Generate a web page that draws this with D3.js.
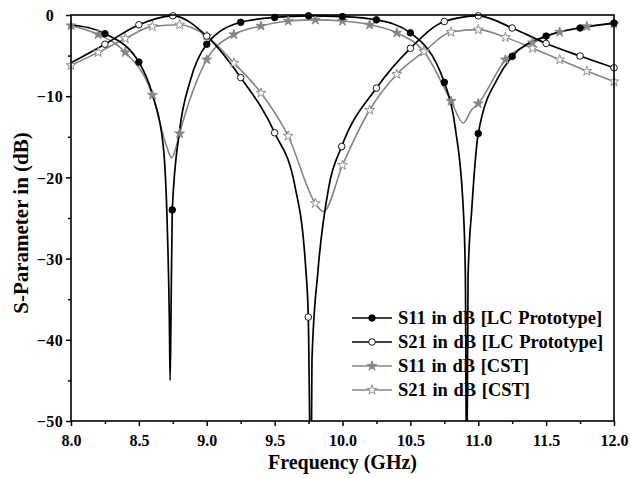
<!DOCTYPE html>
<html>
<head>
<meta charset="utf-8">
<script src="https://cdn.jsdelivr.net/npm/d3@7"></script>
<style>
  body { margin: 0; background: #fff; }
  text { font-family: "Liberation Serif", "Times New Roman", serif; font-weight: bold; fill: #000; }
</style>
</head>
<body>
<div id="chart"></div>
<script>
(function () {
	"use strict";

	// [frequency GHz, dB]
	var s11LcLine = [
		[8.0, -1.2], [8.25, -2.3], [8.5, -5.8], [8.6, -9.8], [8.68, -16.2], [8.71, -26.5],
		[8.725, -38], [8.73, -45], [8.736, -38], [8.746, -24.0], [8.8, -14.2], [8.88, -8.0],
		[9.0, -3.6], [9.25, -0.9], [9.5, -0.3], [9.75, -0.1], [10.0, -0.2], [10.25, -0.6],
		[10.5, -2.2], [10.75, -8.3], [10.83, -13.8], [10.89, -24], [10.905, -32], [10.915, -60],
		[10.925, -32], [10.952, -24], [11.0, -14.6], [11.15, -7.6], [11.25, -5.1], [11.5, -2.6],
		[11.75, -1.6], [12.0, -1.0]
	];
	var s11LcMarks = [
		[8.25, -2.3], [8.5, -5.8], [8.746, -24.0], [9.0, -3.6], [9.25, -0.9], [9.5, -0.3],
		[9.75, -0.1], [10.0, -0.2], [10.25, -0.6], [10.5, -2.2], [10.75, -8.3], [11.0, -14.6],
		[11.25, -5.1], [11.5, -2.6], [11.75, -1.6], [12.0, -1.0]
	];

	var s21LcLine = [
		[8.0, -5.9], [8.25, -3.6], [8.5, -1.2], [8.75, -0.1], [9.0, -2.6], [9.25, -7.7],
		[9.5, -14.5], [9.65, -21.1], [9.73, -31.4], [9.748, -37.2], [9.768, -60], [9.775, -42.5],
		[9.82, -31.4], [9.9, -21.1], [9.994, -16.2], [10.25, -9.0], [10.5, -4.1], [10.75, -0.8],
		[11.0, -0.1], [11.25, -1.6], [11.5, -3.5], [11.75, -5.05], [12.0, -6.5]
	];
	var s21LcMarks = [
		[8.25, -3.6], [8.5, -1.2], [8.75, -0.1], [9.0, -2.6], [9.25, -7.7], [9.5, -14.5],
		[9.748, -37.2], [9.994, -16.2], [10.25, -9.0], [10.5, -4.1], [10.75, -0.8], [11.0, -0.1],
		[11.25, -1.6], [11.5, -3.5], [11.75, -5.05], [12.0, -6.5]
	];

	var s11CstLine = [
		[8.0, -1.3], [8.2, -2.4], [8.4, -4.6], [8.6, -9.85], [8.705, -16.2], [8.742, -17.6],
		[8.775, -16.2], [8.8, -14.6], [9.0, -5.5], [9.2, -2.4], [9.4, -1.35], [9.6, -0.74],
		[9.8, -0.6], [10.0, -0.74], [10.2, -1.2], [10.4, -2.2], [10.6, -4.5], [10.8, -10.6],
		[10.89, -13.3], [10.95, -11.7], [11.0, -10.9], [11.2, -5.5], [11.4, -3.4], [11.6, -2.1],
		[11.8, -1.4], [12.0, -1.1]
	];
	var s11CstMarks = [
		[8.0, -1.3], [8.2, -2.4], [8.4, -4.6], [8.6, -9.85], [8.8, -14.6], [9.0, -5.5],
		[9.2, -2.4], [9.4, -1.35], [9.6, -0.74], [9.8, -0.6], [10.0, -0.74], [10.2, -1.2],
		[10.4, -2.2], [10.6, -4.5], [10.8, -10.6], [11.0, -10.9], [11.2, -5.5], [11.4, -3.4],
		[11.6, -2.1], [11.8, -1.4], [12.0, -1.1]
	];

	var s21CstLine = [
		[8.0, -6.2], [8.2, -4.6], [8.4, -2.9], [8.6, -1.4], [8.8, -1.2], [9.0, -2.6],
		[9.2, -5.9], [9.4, -9.6], [9.6, -14.9], [9.8, -23.2], [9.86, -24.2], [10.0, -18.5],
		[10.2, -11.7], [10.4, -7.3], [10.6, -4.5], [10.8, -2.1], [11.0, -1.8], [11.2, -2.75],
		[11.4, -4.1], [11.6, -5.5], [11.8, -6.9], [12.0, -8.2]
	];
	var s21CstMarks = [
		[8.0, -6.2], [8.2, -4.6], [8.4, -2.9], [8.6, -1.4], [8.8, -1.2], [9.0, -2.6],
		[9.2, -5.9], [9.4, -9.6], [9.6, -14.9], [9.8, -23.2], [10.0, -18.5], [10.2, -11.7],
		[10.4, -7.3], [10.6, -4.5], [10.8, -2.1], [11.0, -1.8], [11.2, -2.75], [11.4, -4.1],
		[11.6, -5.5], [11.8, -6.9], [12.0, -8.2]
	];

	var xTicks = [8.0, 8.5, 9.0, 9.5, 10.0, 10.5, 11.0, 11.5, 12.0];
	var yTicks = [0, -10, -20, -30, -40, -50];
	var legendLabels = [
		"S11 in dB [LC Prototype]",
		"S21 in dB [LC Prototype]",
		"S11 in dB [CST]",
		"S21 in dB [CST]"
	];

	var width = 631, height = 478,
		margin = {top: 15, right: 17, bottom: 57, left: 71},
		w = width - margin.left - margin.right,
		h = height - margin.top - margin.bottom,
		gray = "#858585";

	var svg = d3.select("#chart").append("svg")
		.attr("width", width)
		.attr("height", height);

	var g = svg.append("g").attr("transform", "translate(" + margin.left + "," + margin.top + ")");

	var x = d3.scaleLinear().domain([8, 12]).range([0, w]),
		y = d3.scaleLinear().domain([-50, 0]).range([h, 0]);

	svg.append("defs").append("clipPath").attr("id", "clip")
		.append("rect").attr("width", w).attr("height", h);

	// axes: major + minor ticks outside, labels
	var xAxis = d3.axisBottom(x).tickValues(xTicks).tickSize(5).tickFormat(d3.format(".1f"));
	var xMinor = d3.axisBottom(x).tickValues(d3.range(8.25, 12, 0.5)).tickSize(3).tickFormat("");
	var yAxis = d3.axisLeft(y).tickValues(yTicks).tickSize(5).tickFormat(d3.format("d"));
	var yMinor = d3.axisLeft(y).tickValues([-5, -15, -25, -35, -45]).tickSize(3).tickFormat("");

	function styleAxis(sel) {
		sel.select(".domain").remove();
		sel.selectAll("line").attr("stroke", "#000").attr("stroke-width", 1.5);
		sel.selectAll("text").style("font-size", "16px").attr("fill", "#000");
	}

	g.append("g").attr("transform", "translate(0," + h + ")").call(xAxis).call(styleAxis)
		.selectAll("text").attr("dy", "1.05em");
	g.append("g").attr("transform", "translate(0," + h + ")").call(xMinor).call(styleAxis);
	g.append("g").call(yAxis).call(styleAxis)
		.selectAll("text").attr("text-anchor", "middle").attr("x", -21).attr("dy", "0.35em")
		.style("letter-spacing", "0.5px");
	g.append("g").call(yMinor).call(styleAxis);

	var line = d3.line()
		.x(function (d) { return x(d[0]); })
		.y(function (d) { return y(d[1]); })
		.curve(d3.curveMonotoneX);

	var series = [
		{line: s11LcLine, marks: s11LcMarks, color: "#000", sym: "circle", fill: "#000"},
		{line: s21LcLine, marks: s21LcMarks, color: "#000", sym: "circle", fill: "#fff"},
		{line: s11CstLine, marks: s11CstMarks, color: gray, sym: "star", fill: gray},
		{line: s21CstLine, marks: s21CstMarks, color: gray, sym: "star", fill: "#fff"}
	];

	var plot = g.append("g").attr("clip-path", "url(#clip)");

	// gray first so black sits on top
	[2, 3, 0, 1].forEach(function (i) {
		var s = series[i];
		plot.append("path")
			.datum(s.line)
			.attr("fill", "none")
			.attr("stroke", s.color)
			.attr("stroke-width", s.color === "#000" ? 1.7 : 1.6)
			.attr("d", line);
	});

	function symbolPath(s) {
		return s.sym === "circle"
			? d3.symbol().type(d3.symbolCircle).size(34)()
			: d3.symbol().type(d3.symbolStar).size(30)();
	}

	[2, 3, 0, 1].forEach(function (i) {
		var s = series[i];
		g.selectAll(null)
			.data(s.marks)
			.enter().append("path")
			.attr("d", symbolPath(s))
			.attr("transform", function (d) { return "translate(" + x(d[0]) + "," + y(d[1]) + ")"; })
			.attr("fill", s.fill)
			.attr("stroke", s.color)
			.attr("stroke-width", 0.9);
	});

	// frame
	g.append("rect")
		.attr("width", w).attr("height", h)
		.attr("fill", "none").attr("stroke", "#000").attr("stroke-width", 1.6);

	// axis titles
	svg.append("text")
		.attr("x", margin.left + w / 2).attr("y", 469)
		.attr("text-anchor", "middle")
		.style("font-size", "20px")
		.text("Frequency (GHz)");

	svg.append("text")
		.attr("transform", "translate(28," + (margin.top + 208) + ") rotate(-90)")
		.attr("text-anchor", "middle")
		.style("font-size", "21px")
		.text("S-Parameter in (dB)");

	// legend
	var legend = g.append("g").attr("transform", "translate(281,303)");
	legendLabels.forEach(function (label, i) {
		var s = series[i],
			row = legend.append("g").attr("transform", "translate(0," + (i * 24) + ")");
		row.append("line")
			.attr("x1", 0).attr("x2", 40)
			.attr("stroke", s.color).attr("stroke-width", 1.7);
		row.append("path")
			.attr("d", symbolPath(s))
			.attr("transform", "translate(20,0)")
			.attr("fill", s.fill).attr("stroke", s.color).attr("stroke-width", 0.9);
		row.append("text")
			.attr("x", 46).attr("dy", "0.35em")
			.style("font-size", "18.5px")
			.style("word-spacing", "1px")
			.text(label);
	});
})();
</script>
</body>
</html>
